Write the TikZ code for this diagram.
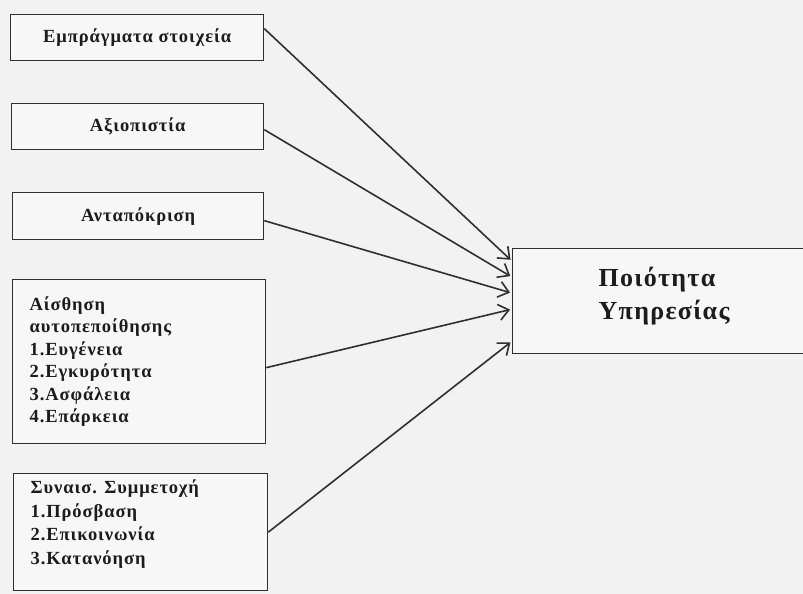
\documentclass[tikz,border=0pt]{standalone}
\usepackage{fontspec}
\setmainfont{Liberation Serif}[LetterSpace=5]
\usetikzlibrary{arrows.meta}
\definecolor{paper}{HTML}{F2F2F2}
\definecolor{boxfill}{HTML}{F7F7F7}
\definecolor{ink}{HTML}{1C1C1C}
\definecolor{edge}{HTML}{303030}
\begin{document}
\begin{tikzpicture}[x=1pt,y=-1pt,
  factor/.style={draw=edge, line width=1.3pt, fill=boxfill, text=ink,
    font=\bfseries\fontsize{18.5}{22.5}\selectfont, anchor=north west, inner sep=0pt},
  outcome/.style={factor, font=\bfseries\fontsize{26}{33}\selectfont},
  link/.style={draw=edge, line width=1.6pt, shorten >=2pt,
    -{Straight Barb[length=10pt,width=16pt,line width=1.6pt]}}]
  % page
  \fill[paper] (0,0) rectangle (803,594);
  \useasboundingbox (0,0) rectangle (803,594);

  % dimensions of service quality
  \node[factor, minimum width=253pt, minimum height=46pt] (b1) at (10,14)
    {Εμπράγματα στοιχεία};
  \node[factor, minimum width=252pt, minimum height=46pt] (b2) at (11,103)
    {Αξιοπιστία};
  \node[factor, minimum width=251pt, minimum height=47pt] (b3) at (12,192)
    {Ανταπόκριση};
  \node[factor, minimum width=253pt, minimum height=164pt] (b4) at (12,279)
    {\parbox[c][130pt][t]{219pt}{Αίσθηση\\αυτοπεποίθησης\\1.Ευγένεια\\2.Εγκυρότητα\\3.Ασφάλεια\\4.Επάρκεια}};
  \node[factor, minimum width=254pt, minimum height=117pt] (b5) at (13,473)
    {\parbox[c][104pt][t]{220pt}{\fontsize{18.5}{23.5}\selectfont Συναισ. Συμμετοχή\\1.Πρόσβαση\\2.Επικοινωνία\\3.Κατανόηση}};

  % resulting quality
  \node[outcome, minimum width=300pt, minimum height=105pt] (q) at (512,248)
    {\parbox[c][67pt][t]{128pt}{Ποιότητα\\Υπηρεσίας}};

  % influences
  \draw[link] ([yshift=9pt]b1.east)  -- ([yshift=40pt]q.west);
  \draw[link] ([yshift=-3pt]b2.east) -- ([yshift=24pt]q.west);
  \draw[link] ([yshift=-4.5pt]b3.east) -- ([yshift=8pt]q.west);
  \draw[link] ([yshift=-6pt]b4.east) -- ([yshift=-8pt]q.west);
  \draw[link] (b5.east) -- ([yshift=-40pt]q.west);
\end{tikzpicture}
\end{document}
